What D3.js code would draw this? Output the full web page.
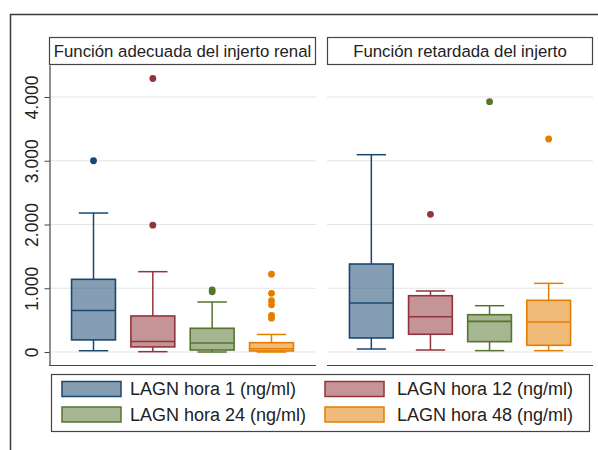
<!DOCTYPE html>
<html>
<head>
<meta charset="utf-8">
<script src="https://cdn.jsdelivr.net/npm/d3@7"></script>
<style>
  body { margin: 0; background: #fff; }
  svg { font-family: "Liberation Sans", Arial, sans-serif; }
</style>
</head>
<body>
<div id="chart"></div>
<script>
// panel titles and series
var panels = ["Función adecuada del injerto renal", "Función retardada del injerto"];
var series = ["LAGN hora 1 (ng/ml)", "LAGN hora 12 (ng/ml)", "LAGN hora 24 (ng/ml)", "LAGN hora 48 (ng/ml)"];
var colors = ["#1a476f", "#90353b", "#55752f", "#e37e00"];
var yTicks = [0, 1000, 2000, 3000, 4000];

// [whisker low, q1, median, q3, whisker high]
var boxAdecuada = [
  [20, 190, 650, 1140, 2180],
  [5, 80, 165, 565, 1260],
  [0, 31, 140, 372, 784],
  [0, 16, 50, 146, 275]
];
var outAdecuada = [[3000], [1990, 4290], [945, 975], [1220, 920, 805, 740, 575, 530]];

var boxRetardada = [
  [47, 220, 769, 1380, 3095],
  [31, 278, 554, 883, 957],
  [21, 162, 481, 585, 726],
  [21, 105, 471, 811, 1077]
];
var outRetardada = [[], [2160], [3926], [3341]];

var W = 598, H = 450;
var svg = d3.select("#chart").append("svg")
    .attr("width", W)
    .attr("height", H);

// outer frame (cropped at right/bottom like the original)
svg.append("path")
    .attr("d", "M10.5," + (H + 5) + "V14.5H" + (W + 5))
    .attr("fill", "none")
    .attr("stroke", "#3a3a3a")
    .attr("stroke-width", 1.5);

var plotTop = 65, plotBottom = 365;
var panelBox = [{left: 49, right: 316}, {left: 327, right: 593}];

var y = d3.scaleLinear()
    .domain([-204, 4502])
    .range([plotBottom, plotTop]);

var boxes = [boxAdecuada, boxRetardada],
    outs = [outAdecuada, outRetardada];

panels.forEach(function(title, p) {
  var pb = panelBox[p];
  var x = d3.scaleBand()
      .domain(series)
      .range([pb.left, pb.right])
      .paddingInner(0.26)
      .paddingOuter(0.38);

  var g = svg.append("g");

  // header strip
  g.append("rect")
      .attr("x", pb.left + 0.5)
      .attr("y", 37.5)
      .attr("width", pb.right - pb.left - 1)
      .attr("height", 27)
      .attr("fill", "#fff")
      .attr("stroke", "#444")
      .attr("stroke-width", 1.2);
  g.append("text")
      .attr("x", (pb.left + pb.right) / 2)
      .attr("y", 51)
      .attr("dy", "0.35em")
      .attr("text-anchor", "middle")
      .attr("font-size", "16.8px")
      .attr("fill", "#222")
      .text(title);

  // grid
  g.selectAll(".grid")
      .data(yTicks)
    .enter().append("line")
      .attr("x1", pb.left)
      .attr("x2", pb.right)
      .attr("y1", function(d) { return y(d); })
      .attr("y2", function(d) { return y(d); })
      .attr("stroke", "#e4e4e4")
      .attr("stroke-width", 1);

  // bottom axis line
  g.append("line")
      .attr("x1", pb.left)
      .attr("x2", pb.right)
      .attr("y1", plotBottom + 0.5)
      .attr("y2", plotBottom + 0.5)
      .attr("stroke", "#444")
      .attr("stroke-width", 1.2);

  var bw = x.bandwidth(), cap = bw * 0.67;
  var b = g.selectAll(".box")
      .data(boxes[p])
    .enter().append("g")
      .attr("class", "box");

  function cx(i) { return x(series[i]) + bw / 2; }

  // whiskers
  b.append("line")
      .attr("x1", function(d, i) { return cx(i); })
      .attr("x2", function(d, i) { return cx(i); })
      .attr("y1", function(d) { return y(d[0]); })
      .attr("y2", function(d) { return y(d[1]); })
      .attr("stroke", function(d, i) { return colors[i]; })
      .attr("stroke-width", 1.5);
  b.append("line")
      .attr("x1", function(d, i) { return cx(i); })
      .attr("x2", function(d, i) { return cx(i); })
      .attr("y1", function(d) { return y(d[3]); })
      .attr("y2", function(d) { return y(d[4]); })
      .attr("stroke", function(d, i) { return colors[i]; })
      .attr("stroke-width", 1.5);
  [0, 4].forEach(function(k) {
    b.append("line")
        .attr("x1", function(d, i) { return cx(i) - cap / 2; })
        .attr("x2", function(d, i) { return cx(i) + cap / 2; })
        .attr("y1", function(d) { return y(d[k]); })
        .attr("y2", function(d) { return y(d[k]); })
        .attr("stroke", function(d, i) { return colors[i]; })
        .attr("stroke-width", 1.5);
  });

  // box
  b.append("rect")
      .attr("x", function(d, i) { return x(series[i]); })
      .attr("width", bw)
      .attr("y", function(d) { return y(d[3]); })
      .attr("height", function(d) { return y(d[1]) - y(d[3]); })
      .attr("fill", function(d, i) { return colors[i]; })
      .attr("fill-opacity", 0.53)
      .attr("stroke", function(d, i) { return colors[i]; })
      .attr("stroke-width", 1.6);
  b.append("line")
      .attr("x1", function(d, i) { return x(series[i]); })
      .attr("x2", function(d, i) { return x(series[i]) + bw; })
      .attr("y1", function(d) { return y(d[2]); })
      .attr("y2", function(d) { return y(d[2]); })
      .attr("stroke", function(d, i) { return colors[i]; })
      .attr("stroke-width", 1.6);

  // outliers
  outs[p].forEach(function(vals, i) {
    g.selectAll(".o" + i)
        .data(vals)
      .enter().append("circle")
        .attr("cx", cx(i))
        .attr("cy", function(d) { return y(d); })
        .attr("r", 3.4)
        .attr("fill", colors[i]);
  });
});

// y axis on the left panel
var yAxis = d3.axisLeft(y)
    .tickValues(yTicks)
    .tickSize(5)
    .tickSizeOuter(0)
    .tickFormat(function(d) { return d3.format(",")(d).replace(/,/g, "."); });

var ax = svg.append("g")
    .attr("transform", "translate(49.5,0)")
    .call(yAxis);
ax.select(".domain").attr("stroke", "#444").attr("stroke-width", 1.2);
ax.selectAll(".tick line").attr("stroke", "#444");
ax.selectAll(".tick text")
    .attr("x", null)
    .attr("dy", null)
    .attr("text-anchor", "middle")
    .attr("transform", "translate(-11.5,0) rotate(-90)")
    .attr("font-size", "17.5px")
    .attr("font-family", "Liberation Sans, Arial, sans-serif")
    .attr("fill", "#222");

// legend
var legend = svg.append("g");
legend.append("rect")
    .attr("x", 51.5)
    .attr("y", 374.5)
    .attr("width", 538)
    .attr("height", 57)
    .attr("fill", "#fff")
    .attr("stroke", "#444")
    .attr("stroke-width", 1.2);

var item = legend.selectAll(".item")
    .data(series)
  .enter().append("g")
    .attr("class", "item")
    .attr("transform", function(d, i) {
      return "translate(" + (i % 2 ? 325 : 62) + "," + (i < 2 ? 381.5 : 407) + ")";
    });

item.append("rect")
    .attr("width", 59)
    .attr("height", 15)
    .attr("fill", function(d, i) { return colors[i]; })
    .attr("fill-opacity", 0.53)
    .attr("stroke", function(d, i) { return colors[i]; })
    .attr("stroke-width", 1.5);

item.append("text")
    .attr("x", function(d, i) { return i % 2 ? 72 : 68; })
    .attr("y", 7.5)
    .attr("dy", "0.36em")
    .attr("font-size", "18px")
    .attr("fill", "#222")
    .text(function(d) { return d; });
</script>
</body>
</html>
